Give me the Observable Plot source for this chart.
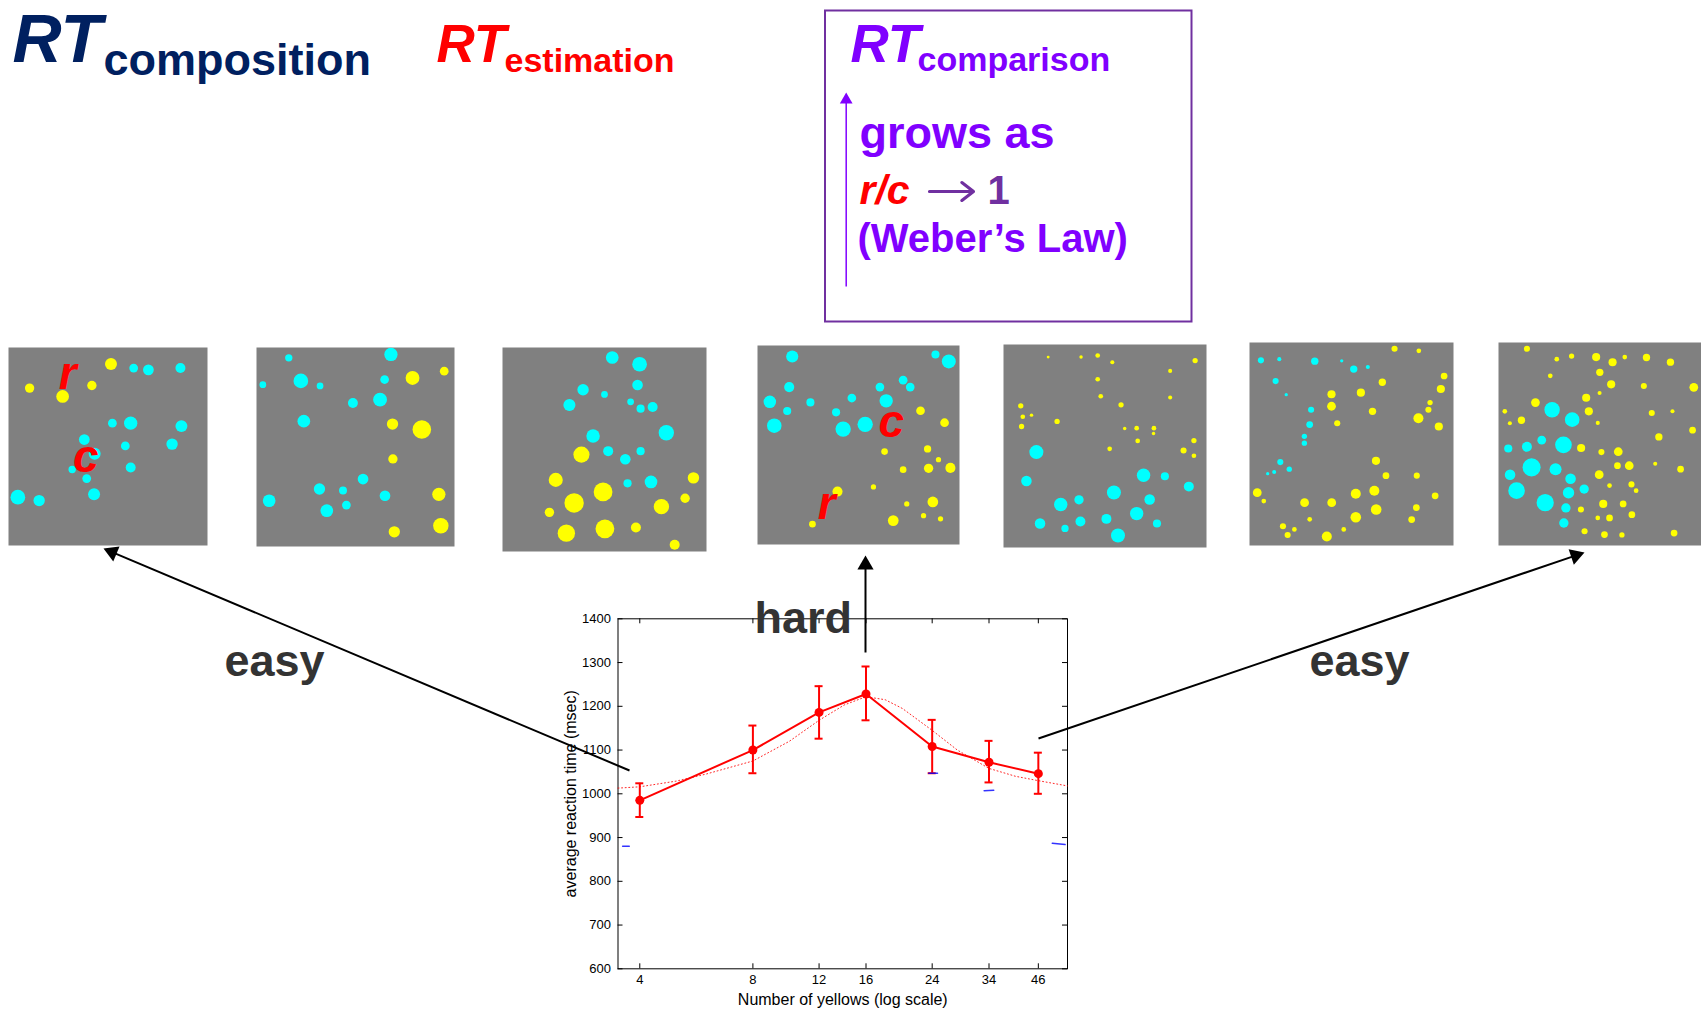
<!DOCTYPE html>
<html><head><meta charset="utf-8">
<script src="https://cdn.jsdelivr.net/npm/d3@7"></script>
<script src="https://cdn.jsdelivr.net/npm/@observablehq/plot@0.6"></script>
<style>
html,body{margin:0;padding:0;background:#fff;}
#page{position:relative;width:1701px;height:1010px;overflow:hidden;font-family:"Liberation Sans",Arial,sans-serif;background:#fff;}
#page > div{position:absolute;line-height:0;}
</style></head><body><div id="page"></div>
<script>
// ---------------- chart data ----------------
const yellows = [4, 8, 12, 16, 24, 34, 46];
const meanRT  = [985, 1100, 1186, 1228, 1108, 1072, 1046];
const rtUpper = [1024, 1156, 1246, 1291, 1169, 1121, 1094];
const rtLower = [947, 1047, 1126, 1168, 1047, 1026, 1000];
const fitYellows = [3.5, 4, 5, 6, 8, 10, 12, 14, 16, 18, 20, 24, 28, 34, 40, 46, 55];
const fitRT      = [1013, 1016, 1029, 1045, 1075, 1120, 1168, 1203, 1222, 1215, 1195, 1145, 1100, 1058, 1040, 1030, 1018];
const blueFragX  = [[23.5, 24.8], [33.0, 35.0], [3.6, 3.75], [50.1, 54.2]];
const blueFragRT = [[1047, 1047], [1007, 1008], [880, 880], [887, 884]];
const xTickValues = [4, 8, 12, 16, 24, 34, 46];
const yTickValues = [600, 700, 800, 900, 1000, 1100, 1200, 1300, 1400];
const xLabel = "Number of yellows (log scale)";
const yLabel = "average reaction time (msec)";

// ---------------- stimulus panels: [x, y, radius] in panel units (0-100) ----------------
const panel1Yellow = [[51.5,8.3,3.0],[10.6,20.5,2.35],[41.9,19.2,2.35],[27.2,24.7,3.2]];
const panel1Cyan = [[62.9,10.4,2.2],[70.3,11.3,2.7],[86.4,10.4,2.5],[52.2,38.2,2.2],[61.4,38.2,3.35],[86.9,39.7,3.0],[38.1,46.5,2.7],[58.7,49.7,2.2],[82.2,48.8,2.85],[43.3,53.7,3.0],[32.0,61.6,1.85],[61.4,60.6,2.5],[39.3,66.2,2.2],[4.7,75.6,3.7],[15.4,77.3,2.85],[43.0,74.1,3.0]];
const panel1Labels = [{t:"r", x:29.7, y:20.9}, {t:"c", x:38.9, y:63.0}];

const panel2Cyan = [[16.3,5.2,1.85],[67.9,3.5,3.35],[3.2,18.7,1.7],[22.4,16.8,3.7],[32.1,19.3,1.7],[64.7,16.1,2.2],[48.7,27.9,2.5],[62.4,26.2,3.5],[23.9,37.0,3.2],[53.8,66.1,2.7],[31.8,71.1,2.85],[43.7,71.9,2.0],[6.4,77.0,3.2],[64.9,74.5,2.7],[45.4,79.2,2.2],[35.5,82.0,3.2]];
const panel2Yellow = [[78.8,15.3,3.5],[94.8,11.9,2.2],[68.7,38.5,2.85],[83.5,41.2,4.7],[68.9,56.0,2.35],[92.1,73.8,3.35],[93.1,89.6,3.9],[69.6,92.6,2.85]];

const panel3Cyan = [[53.8,4.9,3.1],[67.2,8.2,3.6],[39.5,20.7,2.8],[50.0,23.0,1.65],[66.2,18.4,2.6],[32.8,28.2,2.95],[62.8,26.6,1.65],[67.7,30.0,2.0],[73.6,29.2,2.45],[44.4,43.4,3.3],[80.3,41.8,3.75],[51.8,50.8,2.45],[67.7,50.8,2.0],[60.2,54.8,2.6],[61.3,66.6,2.0],[72.8,65.9,3.1]];
const panel3Yellow = [[38.7,52.5,3.95],[26.1,64.9,3.45],[49.3,70.8,4.6],[35.1,76.2,4.75],[23.0,80.8,2.3],[93.6,63.9,2.8],[89.5,73.9,2.3],[77.9,78.0,3.75],[31.3,91.0,4.25],[50.2,88.9,4.6],[65.4,88.2,2.45],[84.4,96.7,2.45]];

const panel4Cyan = [[17.2,5.5,3.0],[88.1,4.5,2.0],[94.7,8.0,3.45],[15.7,20.9,2.5],[72.1,17.4,2.15],[75.6,20.9,2.15],[60.6,20.9,2.15],[6.1,28.3,3.1],[26.2,28.6,2.0],[46.7,26.4,2.15],[63.7,27.8,3.3],[14.7,32.9,2.0],[38.9,33.6,2.0],[8.3,40.3,3.6],[42.4,42.0,3.8],[53.3,39.6,3.8]];
const panel4Yellow = [[80.7,32.8,2.15],[92.6,38.8,2.15],[62.9,53.3,1.65],[84.2,52.0,1.8],[89.6,57.4,1.3],[72.1,62.4,1.65],[84.7,61.7,2.3],[95.5,61.5,2.5],[57.4,71.1,1.3],[39.6,73.4,2.5],[86.8,78.6,2.65],[73.9,79.6,1.3],[82.2,85.5,1.3],[90.6,87.1,1.3],[67.2,88.0,2.65],[27.2,89.8,1.65]];
const panel4Labels = [{t:"c", x:66.2, y:46.0}, {t:"r", x:34.3, y:87.3}];

const panel5Yellow = [[22.0,6.2,0.7],[38.2,6.2,0.85],[46.4,5.4,1.15],[53.6,8.7,1.0],[94.4,7.9,1.3],[82.1,13.0,1.0],[46.4,17.1,1.15],[47.9,25.5,1.15],[82.1,26.1,1.0],[57.9,29.7,1.3],[8.5,30.2,1.3],[9.5,35.6,1.15],[13.8,34.8,0.85],[8.9,40.4,1.3],[26.4,37.9,1.3],[59.7,41.4,0.85],[65.6,41.2,1.15],[74.1,41.2,1.15],[73.9,43.8,0.85],[66.1,47.5,1.15],[52.3,51.4,1.15],[93.8,47.3,1.3],[88.7,52.2,1.5],[93.8,54.8,1.15]];
const panel5Cyan = [[16.2,53.0,3.45],[11.3,67.2,2.6],[69.0,64.4,3.3],[79.5,64.9,2.0],[91.3,70.0,2.45],[54.4,72.9,3.45],[28.2,78.8,3.3],[37.2,76.5,2.3],[72.0,76.4,2.6],[65.6,83.3,3.3],[50.7,85.9,2.45],[37.9,87.2,2.45],[18.0,88.2,2.6],[30.3,90.6,1.8],[75.6,88.2,2.0],[56.4,94.1,3.45]];

const panel6Cyan = [[5.6,8.8,1.5],[14.6,8.2,1.0],[32.0,9.2,1.8],[45.2,9.0,0.8],[51.1,13.1,1.8],[58.0,12.1,1.0],[12.8,19.0,1.5],[18.0,25.7,0.8],[30.2,33.1,1.5],[29.5,40.4,1.65],[26.9,46.2,1.3],[26.9,49.6,1.3],[15.1,58.9,1.5],[19.5,62.4,1.3],[12.1,63.8,1.0],[8.9,64.6,0.8]];
const panel6Yellow = [[71.1,3.1,1.5],[83.0,4.1,1.15],[95.4,16.5,1.65],[65.1,19.6,1.8],[93.8,22.9,2.0],[40.2,25.5,2.0],[54.6,24.7,2.0],[40.2,31.4,2.15],[60.3,33.9,1.8],[88.5,29.6,1.3],[87.7,33.1,1.5],[82.8,37.3,2.45],[92.8,41.4,2.0],[43.0,39.8,1.5],[62.0,58.3,2.0],[66.9,65.6,1.65],[82.0,65.6,1.5],[3.8,74.0,2.15],[7.0,78.1,1.15],[27.0,78.9,2.15],[40.3,78.9,2.15],[52.1,74.5,2.45],[61.2,73.0,2.45],[91.0,75.5,1.65],[81.8,81.3,1.65],[62.1,82.3,2.6],[52.1,86.1,2.6],[79.5,87.2,1.65],[29.5,87.1,1.15],[16.4,90.5,1.5],[22.0,92.1,1.15],[18.7,94.8,1.5],[46.2,92.1,1.15],[37.9,95.6,2.45]];

const panel7Yellow = [[14.0,3.1,1.5],[28.7,8.2,1.15],[36.0,6.7,1.3],[48.1,7.2,2.0],[56.2,9.7,2.0],[62.2,7.2,1.15],[72.9,7.4,1.8],[84.7,9.7,1.8],[25.5,16.4,1.15],[49.9,14.7,1.8],[55.5,20.6,2.0],[71.6,21.4,1.5],[96.2,22.1,2.15],[43.2,27.2,2.0],[49.8,24.9,1.0],[18.2,29.6,2.15],[3.1,33.9,1.15],[5.6,39.8,1.0],[11.3,38.3,1.8],[44.5,33.9,2.0],[48.9,39.6,1.0],[75.5,34.7,1.5],[85.7,33.9,1.0],[95.6,43.2,1.65],[79.0,46.5,1.8],[40.7,52.0,2.0],[50.7,54.0,1.5],[59.0,53.8,2.15],[58.6,60.7,1.65],[64.4,60.7,2.15],[77.2,59.7,1.0],[89.7,62.4,1.65],[49.6,65.1,2.15],[54.7,70.5,1.15],[65.5,69.9,1.5],[67.8,73.0,1.15],[40.6,82.3,1.5],[51.6,79.5,2.0],[61.4,79.5,1.65],[65.7,84.8,1.65],[48.9,86.4,1.15],[54.7,86.4,1.65],[42.4,93.0,1.5],[52.2,94.6,1.65],[60.8,94.8,1.3],[86.5,93.9,1.65]];
const panel7Cyan = [[26.4,33.1,3.8],[36.3,38.0,3.6],[4.8,52.2,2.0],[14.0,51.4,2.45],[21.3,48.1,2.15],[32.0,50.4,4.1],[16.3,61.5,4.45],[28.1,62.4,2.95],[5.7,65.1,2.6],[35.5,67.1,2.6],[8.9,73.0,4.1],[34.5,74.0,2.8],[42.2,72.2,2.3],[23.0,78.9,4.25],[33.2,81.5,2.3],[32.2,88.9,2.3]];

// ---------------- slide annotations (page units) ----------------
const pointerArrows = [
  {x1: 629, y1: 770, x2: 103, y2: 548},
  {x1: 865, y1: 652, x2: 865, y2: 555},
  {x1: 1038, y1: 738, x2: 1584, y2: 552}
];
const weberArrow = [{x1: 845.7, y1: 286, x2: 845.7, y2: 92}];
const towardsArrow = [{x1: 929, y1: 191, x2: 973, y2: 191}];
const weberBox = [{x1: 825, y1: 10.5, x2: 1191.5, y2: 321.5}];
const italicTexts = [
  {t: "RT",  x: 12,  y: 61,  size: 68, c: "#002060"},
  {t: "RT",  x: 436, y: 61,  size: 53, c: "#ff0000"},
  {t: "RT",  x: 850, y: 61,  size: 53, c: "#8000ff"},
  {t: "r/c", x: 859, y: 203, size: 41, c: "#ff0000"}
];
const plainTexts = [
  {t: "composition", x: 103, y: 74, size: 45, c: "#002060"},
  {t: "estimation",  x: 504, y: 71, size: 34, c: "#ff0000"},
  {t: "comparison",  x: 917, y: 70, size: 34, c: "#8000ff"},
  {t: "grows as",    x: 859, y: 147, size: 45, c: "#8000ff"},
  {t: "1",           x: 987, y: 203, size: 40, c: "#7030a0"},
  {t: "(Weber\u2019s Law)", x: 857, y: 251, size: 40, c: "#8000ff"},
  {t: "easy", x: 224, y: 675, size: 45, c: "#333333"},
  {t: "hard", x: 754, y: 632, size: 45, c: "#333333"},
  {t: "easy", x: 1309, y: 675, size: 45, c: "#333333"}
];

// ---------------- layout ----------------
const FONT = '"Liberation Sans", Arial, Helvetica, sans-serif';
const page = document.getElementById("page");
function place(node, left, top, z) {
  const d = document.createElement("div");
  d.style.left = left + "px"; d.style.top = top + "px"; d.style.zIndex = z;
  d.appendChild(node); page.appendChild(d); return d;
}

// ----- stimulus panels -----
const panelBoxes = [
  {left: 8,    top: 347, w: 199, h: 198},
  {left: 256,  top: 347, w: 198, h: 199},
  {left: 502,  top: 347, w: 204, h: 204},
  {left: 757,  top: 345, w: 202, h: 199},
  {left: 1003, top: 344, w: 203, h: 203},
  {left: 1249, top: 342, w: 204, h: 203},
  {left: 1498, top: 342, w: 203, h: 203}
];
const panels = [
  {cyan: panel1Cyan, yellow: panel1Yellow, labels: panel1Labels},
  {cyan: panel2Cyan, yellow: panel2Yellow, labels: []},
  {cyan: panel3Cyan, yellow: panel3Yellow, labels: []},
  {cyan: panel4Cyan, yellow: panel4Yellow, labels: panel4Labels},
  {cyan: panel5Cyan, yellow: panel5Yellow, labels: []},
  {cyan: panel6Cyan, yellow: panel6Yellow, labels: []},
  {cyan: panel7Cyan, yellow: panel7Yellow, labels: []}
];
panels.forEach((p, i) => {
  const b = panelBoxes[i];
  const svg = Plot.plot({
    width: b.w, height: b.h,
    margin: 0,
    x: {domain: [0, 100], range: [0, b.w], axis: null},
    y: {domain: [0, 100], range: [0, b.h], axis: null},
    r: {type: "linear", domain: [0, 100], range: [0, b.w]},
    style: {background: "transparent", fontFamily: FONT, overflow: "visible"},
    marks: [
      Plot.frame({fill: "#808080", stroke: null}),
      Plot.dot(p.cyan, {x: d => d[0], y: d => d[1], r: d => d[2], fill: "#00ffff", stroke: null}),
      Plot.dot(p.yellow, {x: d => d[0], y: d => d[1], r: d => d[2], fill: "#ffff00", stroke: null}),
      Plot.text(p.labels, {x: "x", y: "y", text: "t", fill: "#ff0000", fontSize: 46,
        fontWeight: "bold", fontStyle: "italic", lineAnchor: "bottom", textAnchor: "middle"})
    ]
  });
  place(svg, b.left, b.top, 1);
});

// ----- main chart -----
const rows = yellows.map((n, i) => ({n, rt: meanRT[i], hi: rtUpper[i], lo: rtLower[i]}));
const fit = fitYellows.map((n, i) => ({n, rt: fitRT[i]}));
const blue = blueFragX.flatMap((xs, k) => xs.map((n, j) => ({k, n, rt: blueFragRT[k][j]})));
const cW = 560, cH = 420, mL = 77.5, mR = 33, mT = 28.3, mB = 41.7;
const innerW = cW - mL - mR, innerH = cH - mT - mB;
const chart = Plot.plot({
  width: cW, height: cH,
  marginLeft: mL, marginRight: mR, marginTop: mT, marginBottom: mB,
  style: {background: "transparent", fontFamily: FONT, fontSize: "13px", color: "#000", overflow: "visible"},
  x: {type: "log", domain: [3.5, 55]},
  y: {domain: [600, 1400]},
  marks: [
    Plot.frame({stroke: "#000", strokeWidth: 1}),
    Plot.tickY(yTickValues, {y: d => d, stroke: "#000", insetRight: innerW - 5}),
    Plot.tickY(yTickValues, {y: d => d, stroke: "#000", insetLeft: innerW - 5}),
    Plot.tickX(xTickValues, {x: d => d, stroke: "#000", insetTop: innerH - 5}),
    Plot.tickX(xTickValues, {x: d => d, stroke: "#000", insetBottom: innerH - 5}),
    Plot.axisX({ticks: xTickValues, tickFormat: d => String(d), tickSize: 0, tickPadding: 6, label: null, fill: "#000"}),
    Plot.axisY({ticks: yTickValues, tickFormat: d => String(d), tickSize: 0, tickPadding: 7, label: null, fill: "#000"}),
    Plot.text([xLabel], {frameAnchor: "bottom", dy: 36, lineAnchor: "bottom", textAnchor: "middle", fontSize: 16, fill: "#000"}),
    Plot.text([yLabel], {frameAnchor: "left", dx: -42, rotate: -90, lineAnchor: "bottom", textAnchor: "middle", fontSize: 16, fill: "#000"}),
    Plot.line(fit, {x: "n", y: "rt", stroke: "#ff0000", strokeWidth: 1, strokeDasharray: "1,2.6", strokeOpacity: 0.85}),
    Plot.ruleX(rows, {x: "n", y1: "lo", y2: "hi", stroke: "#ff0000", strokeWidth: 2}),
    Plot.ruleY(rows, {y: "hi", x1: "n", x2: "n", insetLeft: -4, insetRight: -4, stroke: "#ff0000", strokeWidth: 2}),
    Plot.ruleY(rows, {y: "lo", x1: "n", x2: "n", insetLeft: -4, insetRight: -4, stroke: "#ff0000", strokeWidth: 2}),
    Plot.line(blue, {x: "n", y: "rt", z: "k", stroke: "#0000ff", strokeWidth: 1.5, strokeOpacity: 0.8}),
    Plot.line(rows, {x: "n", y: "rt", stroke: "#ff0000", strokeWidth: 2}),
    Plot.dot(rows, {x: "n", y: "rt", r: 4.5, fill: "#ff0000", stroke: null})
  ]
});
place(chart, 540, 590, 2);

// ----- overlay: arrows, box, slide text -----
function heads(arr, L, color) {
  const K = Math.sqrt(Math.PI / (3 * Math.sqrt(3)));
  const r = L / (3 * K);
  return arr.map(a => {
    const dx = a.x2 - a.x1, dy = a.y2 - a.y1, len = Math.hypot(dx, dy);
    const ux = dx / len, uy = dy / len;
    return {
      cx: a.x2 - 2 * K * r * ux, cy: a.y2 - 2 * K * r * uy, r,
      ang: Math.atan2(ux, -uy) * 180 / Math.PI, c: color,
      sx: a.x1, sy: a.y1, ex: a.x2 - 0.8 * L * ux, ey: a.y2 - 0.8 * L * uy
    };
  });
}
const blackHeads = heads(pointerArrows, 14, "#000");
const violetHeads = heads(weberArrow, 11, "#8000ff");
const overlay = Plot.plot({
  width: 1701, height: 1010, margin: 0,
  x: {domain: [0, 1701], range: [0, 1701], axis: null},
  y: {domain: [0, 1010], range: [0, 1010], axis: null},
  r: {type: "identity"},
  color: {type: "identity"},
  style: {background: "transparent", fontFamily: FONT, overflow: "visible"},
  marks: [
    Plot.rect(weberBox, {x1: "x1", x2: "x2", y1: "y1", y2: "y2", fill: "none", stroke: "#7030a0", strokeWidth: 2}),
    Plot.link(blackHeads, {x1: "sx", y1: "sy", x2: "ex", y2: "ey", stroke: "#000", strokeWidth: 2}),
    Plot.link(violetHeads, {x1: "sx", y1: "sy", x2: "ex", y2: "ey", stroke: "#8000ff", strokeWidth: 1.5}),
    Plot.dot(blackHeads.concat(violetHeads), {x: "cx", y: "cy", r: "r", rotate: "ang", symbol: "triangle", fill: "c", stroke: null}),
    Plot.arrow(towardsArrow, {x1: "x1", y1: "y1", x2: "x2", y2: "y2", stroke: "#7030a0", strokeWidth: 3.2, headLength: 15, headAngle: 75}),
    Plot.text(italicTexts, {x: "x", y: "y", text: "t", fill: "c", fontSize: d => d.size, fontWeight: "bold", fontStyle: "italic", textAnchor: "start", lineAnchor: "bottom"}),
    Plot.text(plainTexts, {x: "x", y: "y", text: "t", fill: "c", fontSize: d => d.size, fontWeight: "bold", textAnchor: "start", lineAnchor: "bottom"})
  ]
});
const ov = place(overlay, 0, 0, 3);
ov.style.pointerEvents = "none";
</script>
</body></html>
